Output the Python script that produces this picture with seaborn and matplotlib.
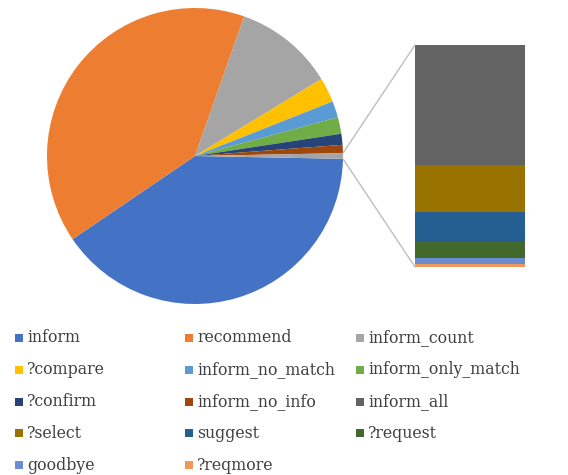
import numpy as np
import matplotlib
matplotlib.use("Agg")
import matplotlib.pyplot as plt
import seaborn as sns
from matplotlib.patches import ConnectionPatch, Rectangle

# main pie (percent of all dialogue acts)
pie_labels = ['inform', 'recommend', 'inform_count', '?compare', 'inform_no_match',
              'inform_only_match', '?confirm', 'inform_no_info']
pie_values = [40.2, 39.9, 10.9, 2.7, 1.8, 1.8, 1.2, 0.9]

# small acts pulled out into the bar (top to bottom)
bar_labels = ['inform_all', '?select', 'suggest', '?request', 'goodbye', '?reqmore']
bar_values = [0.33, 0.13, 0.082, 0.044, 0.017, 0.008]

legend_order = ['inform', 'recommend', 'inform_count', '?compare', 'inform_no_match',
                'inform_only_match', '?confirm', 'inform_no_info', 'inform_all',
                '?select', 'suggest', '?request', 'goodbye', '?reqmore']

colors = dict(zip(legend_order, ['#4472C4', '#ED7D31', '#A5A5A5', '#FFC000', '#5B9BD5',
                                 '#70AD47', '#264478', '#9E480E', '#636363', '#997300',
                                 '#255E91', '#43682B', '#698ED0', '#F1975A']))

sns.set_style("white")
W, H = 568, 475
fig = plt.figure(figsize=(W / 100, H / 100), dpi=100)


def px_axes(x0, y0, x1, y1):
    return fig.add_axes([x0 / W, 1 - y1 / H, (x1 - x0) / W, (y1 - y0) / H])


# pie
other = sum(bar_values)
vals = pie_values + [other]
cols = [colors[l] for l in pie_labels] + ['#A5A5A5']
ax_pie = px_axes(47, 8, 343, 304)
other_angle = other / sum(vals) * 360
wedges, _ = ax_pie.pie(vals, colors=cols, startangle=-other_angle / 2, counterclock=False,
                       radius=1, wedgeprops=dict(linewidth=0))
ax_pie.set_xlim(-1, 1)
ax_pie.set_ylim(-1, 1)
ax_pie.axis('off')

# bar of the "other" slice
ax_bar = px_axes(415, 45, 525, 267)
bottom = other
for lab, v in zip(bar_labels, bar_values):
    bottom -= v
    ax_bar.bar(0, v, bottom=bottom, width=1, color=colors[lab], linewidth=0)
ax_bar.set_xlim(-0.5, 0.5)
ax_bar.set_ylim(0, other)
ax_bar.axis('off')

# connector lines
w = wedges[-1]
for ang, yb in [(w.theta2, other), (w.theta1, 0)]:
    a = np.deg2rad(ang)
    con = ConnectionPatch(xyA=(np.cos(a), np.sin(a)), coordsA=ax_pie.transData,
                          xyB=(-0.5, yb), coordsB=ax_bar.transData,
                          color='#BFBFBF', lw=1)
    fig.add_artist(con)

# legend, row by row in three columns
col_x = [15, 185, 356]
row_y = [338, 370, 402, 433, 465]
for i, lab in enumerate(legend_order):
    x = col_x[i % 3]
    y = row_y[i // 3]
    fig.add_artist(Rectangle((x / W, 1 - (y + 4) / H), 8 / W, 8 / H,
                             transform=fig.transFigure, color=colors[lab], lw=0))
    fig.text((x + 12) / W, 1 - y / H, lab, va='center', ha='left',
             fontsize=11.3, family='DejaVu Serif', color='#404040')

fig.savefig('out.png', dpi=100)
